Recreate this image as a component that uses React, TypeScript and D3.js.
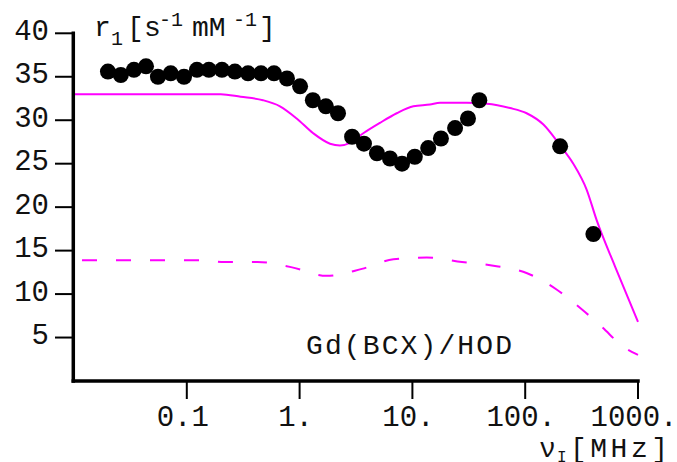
import React from "react";
import * as d3 from "d3";

// Measured relaxivity r1 (dots)
const dotFreq = [0.02, 0.026, 0.034, 0.0435, 0.0555, 0.072, 0.0945, 0.123, 0.157, 0.205, 0.267, 0.349, 0.455, 0.593, 0.773, 1.01, 1.31, 1.71, 2.19, 2.92, 3.72, 4.85, 6.33, 8.09, 10.5, 13.8, 17.9, 23.9, 31.1, 39.2, 204, 402];
const dotR1 = [35.6, 35.2, 35.8, 36.2, 35.0, 35.4, 35.0, 35.8, 35.8, 35.8, 35.6, 35.4, 35.4, 35.4, 34.8, 33.9, 32.3, 31.6, 30.8, 28.1, 27.3, 26.2, 25.6, 25.0, 25.8, 26.8, 27.9, 29.1, 30.2, 32.3, 27.0, 16.9];

// Fitted curve (solid magenta)
const fitFreq = [0.01, 0.2, 0.3, 0.474, 0.67, 0.942, 1.32, 1.86, 2.28, 2.8, 3.67, 5.16, 7.26, 10.2, 14.3, 17.6, 30.3, 45.6, 73.3, 103, 145, 204, 267, 351, 430, 625, 1000];
const fitR1 = [33.0, 33.0, 32.7, 32.3, 31.6, 30.2, 28.5, 27.3, 27.1, 27.4, 28.5, 29.7, 30.8, 31.6, 31.8, 32.0, 32.0, 31.9, 31.4, 30.8, 29.5, 27.1, 25.0, 22.0, 18.5, 13.2, 6.8];

// Second contribution (dashed magenta)
const dashFreq = [0.01, 0.131, 0.214, 0.424, 0.839, 1.73, 3.57, 6.79, 13.4, 27.5, 50.6, 104, 191, 321, 480, 747, 1000];
const dashR1 = [13.9, 13.9, 13.7, 13.7, 13.1, 12.1, 12.9, 14.0, 14.2, 13.7, 13.3, 12.4, 10.5, 8.2, 6.2, 3.9, 3.0];

const yTicks = [5, 10, 15, 20, 25, 30, 35, 40];
const yTickLabels = ["5", "10", "15", "20", "25", "30", "35", "40"];
const xTicks = [0.1, 1, 10, 100, 1000];
const xTickLabels = ["0.1", "1.", "10.", "100.", "1000."];
const sampleLabel = "Gd(BCX)/HOD";

const W = 677;
const H = 462;
const FONT = "'Liberation Mono', 'Courier New', monospace";
const MAGENTA = "#ff00ff";

export default function App() {
  const x = d3.scaleLog().domain([0.01, 1000]).range([74, 638]);
  const y = d3.scaleLinear().domain([0, 40]).range([381, 33.3]);

  const line = d3
    .line<[number, number]>()
    .x((d) => x(d[0]))
    .y((d) => y(d[1]))
    .curve(d3.curveMonotoneX);

  const fitPath = line(fitFreq.map((f, i) => [f, fitR1[i]] as [number, number])) || "";
  const dashPath = line(dashFreq.map((f, i) => [f, dashR1[i]] as [number, number])) || "";

  const x0 = x.range()[0] - 0.7;
  const x1 = x.range()[1];
  const yBottom = y(0);
  const yTop = y(40);

  return (
    <svg
      width={W}
      height={H}
      viewBox={`0 0 ${W} ${H}`}
      style={{ position: "fixed", left: 0, top: 0, display: "block", background: "#fff" }}
    >
      <rect x={0} y={0} width={W} height={H} fill="#fff" />

      {/* curves */}
      <path d={dashPath} fill="none" stroke={MAGENTA} strokeWidth={2} strokeDasharray="15 19" strokeDashoffset={26} />
      <path d={fitPath} fill="none" stroke={MAGENTA} strokeWidth={2} />

      {/* dots */}
      {dotFreq.map((f, i) => (
        <circle key={i} cx={x(f)} cy={y(dotR1[i])} r={8} fill="#000" />
      ))}

      {/* axes */}
      <line x1={x0} y1={yTop} x2={x0} y2={yBottom} stroke="#000" strokeWidth={3.5} strokeLinecap="square" />
      <line x1={x0} y1={yBottom} x2={x1} y2={yBottom} stroke="#000" strokeWidth={3.5} strokeLinecap="square" />

      {yTicks.map((t, i) => (
        <g key={"y" + t}>
          <line x1={55} y1={y(t)} x2={x0} y2={y(t)} stroke="#000" strokeWidth={2} />
          <text x={49} y={y(t) + 6.5} textAnchor="end" fontFamily={FONT} fontSize={29} fill="#111">
            {yTickLabels[i]}
          </text>
        </g>
      ))}

      {xTicks.map((t, i) => (
        <g key={"x" + t}>
          <line x1={x(t)} y1={yBottom} x2={x(t)} y2={yBottom + 18} stroke="#000" strokeWidth={2} />
          <text x={x(t) - 4} y={426} textAnchor="middle" fontFamily={FONT} fontSize={29} fill="#111">
            {xTickLabels[i]}
          </text>
        </g>
      ))}

      {/* y axis title */}
      <g fontFamily={FONT} fill="#111">
        <text x={94} y={36} fontSize={28}>r</text>
        <text x={111} y={45} fontSize={20}>1</text>
        <text x={127} y={36} fontSize={28}>[</text>
        <text x={144} y={36} fontSize={28}>s</text>
        <text x={159} y={26} fontSize={20}>-1</text>
        <text x={192} y={36} fontSize={28}>mM</text>
        <text x={233} y={26} fontSize={20}>-1</text>
        <text x={259} y={36} fontSize={28}>]</text>
      </g>

      {/* x axis title */}
      <g fontFamily={FONT} fill="#111">
        <text x={539} y={457} fontSize={28}>ν</text>
        <text x={557} y={462} fontSize={16}>I</text>
        <text x={570} y={457} fontSize={28} textLength={98} lengthAdjust="spacing">[MHz]</text>
      </g>

      {/* sample label */}
      <text x={306} y={354} fontFamily={FONT} fontSize={28} fill="#111" textLength={206} lengthAdjust="spacing">
        {sampleLabel}
      </text>
    </svg>
  );
}
